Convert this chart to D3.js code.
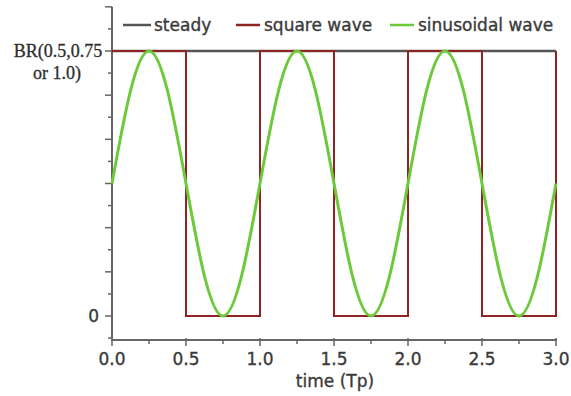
<!DOCTYPE html>
<html>
<head>
<meta charset="utf-8">
<script src="https://cdn.jsdelivr.net/npm/d3@7"></script>
<style>
  body { margin: 0; background: #fff; }
  svg { display: block; }
  .sans { font-family: "DejaVu Sans", sans-serif; font-size: 17px; fill: #3a3a3a; stroke: #3a3a3a; stroke-width: 0.35px; }
</style>
</head>
<body>
<div id="chart"></div>
<script>
// Steady, square and sinusoidal breathing-rate profiles over three periods

// Data (BR normalised to 1)
const steadyTimes = [0, 3];
const steadyValues = [1, 1];

const squareTimes = [0, 0.5, 1.0, 1.5, 2.0, 2.5, 3.0];
const squareValues = [1, 0, 1, 0, 1, 0, 1];

const sineTimes = [0, 0.125, 0.25, 0.375, 0.5, 0.625, 0.75, 0.875,
                   1.0, 1.125, 1.25, 1.375, 1.5, 1.625, 1.75, 1.875,
                   2.0, 2.125, 2.25, 2.375, 2.5, 2.625, 2.75, 2.875, 3.0];
const sineValues = [0.5, 0.85, 1, 0.85, 0.5, 0.15, 0, 0.15,
                    0.5, 0.85, 1, 0.85, 0.5, 0.15, 0, 0.15,
                    0.5, 0.85, 1, 0.85, 0.5, 0.15, 0, 0.15, 0.5];

const xTickValues = [0, 0.5, 1.0, 1.5, 2.0, 2.5, 3.0];
const xMinorTicks = [0.25, 0.75, 1.25, 1.75, 2.25, 2.75];
const legendNames = ["steady", "square wave", "sinusoidal wave"];

const width = 571, height = 396;

const svg = d3.select("#chart")
  .append("svg")
    .attr("width", width)
    .attr("height", height)
    .style("background", "#fff");

// Scales
const x = d3.scaleLinear()
  .domain([0, 3])
  .range([112, 556]);

const y = d3.scaleLinear()
  .domain([0, 1])
  .range([316, 51]);

const axisColor = "#666";

// Y-axis (ticks every 1/12, major every 1/6)
const yTicks = d3.range(-1, 15).map(i => i / 12);
const yAxis = svg.append("g");
yAxis.append("line")
  .attr("x1", 112).attr("x2", 112)
  .attr("y1", y(7 / 6)).attr("y2", 341)
  .attr("stroke", axisColor)
  .attr("stroke-width", 2);
yAxis.selectAll(".ytick")
  .data(yTicks)
  .enter()
  .append("line")
    .attr("class", "ytick")
    .attr("x1", (d, i) => i % 2 === 1 ? 105 : 108)
    .attr("x2", 112)
    .attr("y1", d => y(d))
    .attr("y2", d => y(d))
    .attr("stroke", axisColor)
    .attr("stroke-width", 1.5);

// X-axis
const xAxis = svg.append("g")
  .attr("transform", "translate(0,340)");
xAxis.append("line")
  .attr("x1", 111).attr("x2", 557)
  .attr("stroke", axisColor)
  .attr("stroke-width", 2);
xAxis.selectAll(".xtick")
  .data(xTickValues)
  .enter()
  .append("line")
    .attr("x1", d => x(d)).attr("x2", d => x(d))
    .attr("y1", -2).attr("y2", 6)
    .attr("stroke", axisColor)
    .attr("stroke-width", 1.5);
xAxis.selectAll(".xminor")
  .data(xMinorTicks)
  .enter()
  .append("line")
    .attr("x1", d => x(d)).attr("x2", d => x(d))
    .attr("y1", 0).attr("y2", 4)
    .attr("stroke", axisColor)
    .attr("stroke-width", 1.5);
xAxis.selectAll(".xlabel")
  .data(xTickValues)
  .enter()
  .append("text")
    .attr("class", "sans")
    .attr("x", d => x(d))
    .attr("y", 25)
    .attr("text-anchor", "middle")
    .text(d => d3.format(".1f")(d));

// Axis titles
svg.append("text")
  .attr("class", "sans")
  .attr("x", 335)
  .attr("y", 387)
  .attr("text-anchor", "middle")
  .text("time (Tp)");

svg.append("text")
  .attr("class", "sans")
  .attr("x", 99)
  .attr("y", y(0) + 6)
  .attr("text-anchor", "end")
  .text("0");

const brLabel = svg.append("text")
  .attr("text-anchor", "middle")
  .style("font-family", "Liberation Serif, serif")
  .style("font-size", "18px")
  .attr("fill", "#2e2e2e")
  .attr("stroke", "#2e2e2e")
  .attr("stroke-width", 0.3);
brLabel.append("tspan").attr("x", 58).attr("y", 57).text("BR(0.5,0.75");
brLabel.append("tspan").attr("x", 57).attr("y", 79).text("or 1.0)");

// Lines
const line = d3.line()
  .x(d => x(d[0]))
  .y(d => y(d[1]));

svg.append("path")
  .datum(d3.zip(steadyTimes, steadyValues))
  .attr("fill", "none")
  .attr("stroke", "#555")
  .attr("stroke-width", 2.5)
  .attr("d", line);

svg.append("path")
  .datum(d3.zip(squareTimes, squareValues))
  .attr("fill", "none")
  .attr("stroke", "#8e2424")
  .attr("stroke-width", 2)
  .attr("d", line.curve(d3.curveStepAfter));

svg.append("path")
  .datum(d3.zip(sineTimes, sineValues))
  .attr("fill", "none")
  .attr("stroke", "#6cc93a")
  .attr("stroke-width", 3)
  .attr("d", d3.line().x(d => x(d[0])).y(d => y(d[1])).curve(d3.curveNatural));

// Legend
const legendColors = ["#555", "#8e2424", "#6cc93a"];
const legendX = [123, 236, 390];
const legend = svg.selectAll(".legend")
  .data(legendNames)
  .enter()
  .append("g")
    .attr("transform", (d, i) => `translate(${legendX[i]},25)`);
legend.append("line")
  .attr("x1", 0).attr("x2", (d, i) => i === 0 ? 28 : 24)
  .attr("stroke", (d, i) => legendColors[i])
  .attr("stroke-width", 2.5);
legend.append("text")
  .attr("class", "sans")
  .attr("x", (d, i) => i === 0 ? 31 : 28)
  .attr("y", 6)
  .text(d => d);
</script>
</body>
</html>
